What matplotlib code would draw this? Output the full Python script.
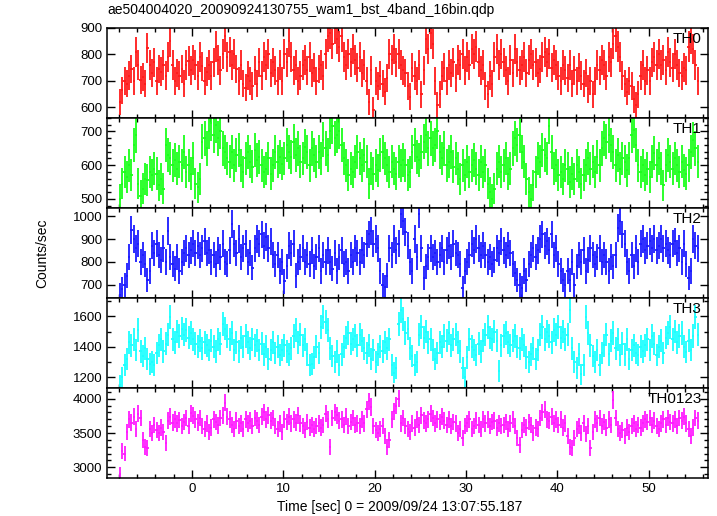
import matplotlib.pyplot as plt
import numpy as np
from matplotlib.ticker import MultipleLocator

plt.rcParams["font.family"] = ["Liberation Sans", "DejaVu Sans"]

# 0.25 s bins, first bin centre
t_start = -7.875
bin_width = 0.25

th0 = [620, 665, 700, 690, 720, 745, 700, 810, 760, 705, 715, 690, 825, 760, 730, 770,
       700, 745, 735, 760, 720, 790, 850, 760, 700, 730, 720, 745, 690, 760, 775, 740,
       780, 760, 720, 790, 755, 700, 735, 760, 720, 770, 830, 780, 740, 800, 870, 790,
       810, 760, 800, 745, 700, 760, 690, 675, 720, 700, 680, 740, 690, 770, 720, 790,
       760, 800, 730, 770, 740, 700, 760, 700, 800, 770, 850, 790, 740, 760, 700, 720,
       760, 780, 740, 790, 730, 750, 700, 745, 760, 720, 800, 870, 880, 840, 900, 860,
       830, 870, 790, 760, 800, 770, 820, 780, 750, 790, 730, 760, 700, 620, 740, 590,
       700, 680, 720, 690, 660, 710, 800, 780, 820, 770, 800, 760, 740, 730, 680, 640,
       750, 720, 700, 760, 650, 740, 860, 820, 880, 840, 700, 610, 650, 720, 750, 700,
       760, 730, 770, 710, 780, 760, 800, 740, 790, 760, 820, 800, 830, 770, 740, 760,
       680, 650, 720, 690, 790, 820, 760, 800, 770, 740, 700, 780, 730, 820, 770, 740,
       760, 790, 730, 780, 800, 760, 770, 730, 745, 790, 810, 770, 800, 750, 780, 760,
       720, 700, 760, 740, 710, 760, 690, 740, 700, 750, 720, 690, 730, 670, 700, 650,
       700, 760, 740, 780, 760, 720, 790, 770, 840, 870, 830, 790, 720, 690, 660, 700,
       680, 630, 610, 650, 720, 760, 700, 740, 700, 770, 790, 760, 800, 760, 780, 740,
       810, 770, 750, 800, 760, 730, 720, 750, 740, 830, 860, 820, 760, 700]

th1 = [500, 545, 580, 565, 600, 570, 660, 690, 545, 510, 530, 560, 555, 580, 570, 590,
       575, 540, 560, 530, 660, 630, 620, 600, 615, 590, 610, 600, 640, 580, 600, 575,
       620, 545, 535, 560, 670, 680, 650, 700, 725, 690, 720, 680, 700, 650, 640, 620,
       610, 640, 600, 630, 645, 600, 580, 620, 640, 610, 595, 645, 615, 625, 600, 580,
       590, 620, 575, 600, 640, 610, 625, 605, 620, 660, 640, 625, 670, 630, 650, 610,
       620, 655, 640, 600, 650, 630, 610, 640, 620, 675, 650, 630, 700, 715, 680, 690,
       700, 660, 620, 600, 570, 590, 580, 610, 640, 620, 600, 630, 610, 545, 590, 575,
       600, 585, 630, 640, 620, 600, 580, 610, 590, 575, 610, 600, 615, 600, 570, 580,
       640, 660, 625, 615, 640, 670, 690, 650, 680, 650, 660, 700, 640, 620, 650, 600,
       610, 640, 595, 620, 590, 560, 600, 570, 610, 580, 600, 615, 590, 570, 610, 580,
       600, 545, 520, 500, 530, 590, 610, 580, 600, 620, 575, 590, 650, 680, 660, 690,
       640, 610, 560, 520, 500, 540, 580, 620, 610, 645, 630, 620, 715, 640, 590, 600,
       570, 580, 560, 600, 590, 550, 575, 560, 600, 580, 545, 570, 600, 620, 590, 610,
       580, 625, 600, 650, 680, 670, 690, 660, 640, 600, 630, 590, 620, 610, 585, 620,
       690, 705, 660, 600, 580, 600, 570, 590, 565, 610, 635, 600, 620, 590, 540, 600,
       630, 610, 590, 620, 600, 580, 610, 585, 575, 600, 640, 675, 650, 610]

th2 = [655, 680, 700, 740, 820, 940, 900, 860, 880, 800, 830, 790, 720, 760, 870, 840,
       880, 830, 810, 860, 800, 935, 820, 790, 770, 820, 760, 800, 840, 860, 830, 850,
       880, 840, 870, 830, 860, 890, 840, 850, 800, 830, 790, 850, 820, 880, 800, 790,
       850, 965, 880, 840, 900, 820, 860, 880, 800, 840, 775, 860, 900, 880, 920, 870,
       910, 860, 890, 830, 790, 830, 760, 800, 715, 780, 870, 840, 880, 740, 800, 820,
       860, 800, 830, 790, 850, 780, 820, 860, 760, 830, 800, 850, 800, 770, 840, 760,
       820, 850, 790, 800, 760, 830, 800, 860, 840, 800, 850, 830, 880, 920, 935, 880,
       900, 860, 760, 700, 690, 740, 860, 830, 900, 850, 880, 1010, 980, 930, 870, 800,
       760, 900, 820, 1010, 860, 730, 780, 820, 860, 820, 840, 800, 830, 860, 800, 850,
       870, 820, 880, 840, 830, 790, 685, 760, 800, 830, 880, 850, 900, 860, 830, 870,
       830, 800, 820, 790, 810, 860, 840, 890, 850, 830, 870, 840, 790, 750, 720, 700,
       685, 760, 720, 790, 830, 860, 820, 850, 900, 920, 870, 890, 850, 920, 830, 860,
       790, 760, 720, 700, 760, 720, 800, 700, 780, 830, 800, 850, 760, 810, 860, 830,
       790, 820, 860, 800, 830, 800, 760, 820, 780, 830, 950, 980, 920, 880, 800, 760,
       830, 780, 860, 800, 880, 900, 850, 870, 890, 860, 900, 850, 870, 900, 860, 880,
       850, 830, 880, 890, 840, 860, 800, 880, 790, 730, 760, 900, 870, 860]

th3 = [1150, 1200, 1280, 1320, 1430, 1410, 1450, 1380, 1510, 1370, 1340, 1390, 1320, 1290, 1300, 1280,
       1360, 1410, 1450, 1370, 1420, 1480, 1595, 1450, 1430, 1500, 1470, 1520, 1480, 1510, 1460, 1490,
       1450, 1420, 1400, 1440, 1390, 1430, 1410, 1380, 1440, 1400, 1370, 1450, 1420, 1550, 1520, 1470,
       1450, 1490, 1380, 1430, 1370, 1460, 1400, 1470, 1430, 1390, 1450, 1410, 1440, 1380, 1420, 1350,
       1400, 1320, 1380, 1430, 1360, 1400, 1345, 1380, 1410, 1370, 1350, 1390, 1470, 1510, 1430, 1480,
       1410, 1450, 1350, 1280, 1290, 1330, 1400, 1360, 1530, 1595, 1560, 1510, 1390, 1340, 1300, 1370,
       1280, 1350, 1400, 1460, 1490, 1420, 1450, 1470, 1410, 1480, 1440, 1390, 1360, 1410, 1320, 1380,
       1300, 1350, 1400, 1370, 1430, 1390, 1450, 1280, 1230, 1260, 1550, 1640, 1580, 1490, 1520, 1390,
       1340, 1280, 1300, 1480, 1530, 1460, 1500, 1430, 1450, 1380, 1320, 1360, 1430, 1400, 1470, 1440,
       1490, 1410, 1450, 1480, 1430, 1370, 1260, 1200, 1330, 1450, 1400, 1380, 1345, 1420, 1370, 1440,
       1480, 1530, 1460, 1450, 1500, 1440, 1240, 1410, 1470, 1490, 1430, 1410, 1440, 1470, 1400, 1390,
       1450, 1410, 1330, 1300, 1350, 1390, 1320, 1380, 1480, 1530, 1450, 1500, 1470, 1430, 1510, 1480,
       1530, 1460, 1500, 1450, 1480, 1640, 1390, 1300, 1260, 1350, 1220, 1280, 1595, 1490, 1410, 1340,
       1300, 1380, 1280, 1360, 1410, 1480, 1350, 1440, 1490, 1390, 1450, 1345, 1420, 1350, 1450, 1320,
       1380, 1410, 1360, 1345, 1400, 1370, 1410, 1450, 1380, 1470, 1420, 1345, 1400, 1440, 1360, 1460,
       1490, 1530, 1450, 1500, 1430, 1470, 1490, 1400, 1365, 1440, 1380, 1470, 1595, 1480]

th0123 = [2900, 3240, 3200, 3510, 3700, 3650, 3740, 3560, 3780, 3720, 3400, 3300, 3280, 3560, 3500, 3620,
          3540, 3500, 3580, 3510, 3360, 3680, 3740, 3650, 3700, 3640, 3690, 3600, 3660, 3720, 3600, 3790,
          3750, 3700, 3650, 3720, 3600, 3560, 3640, 3520, 3580, 3700, 3660, 3610, 3720, 3760, 3940, 3740,
          3700, 3620, 3560, 3680, 3600, 3640, 3560, 3700, 3640, 3680, 3600, 3720, 3680, 3620, 3740, 3800,
          3700, 3760, 3680, 3720, 3600, 3560, 3640, 3520, 3700, 3660, 3740, 3640, 3700, 3650, 3760, 3640,
          3600, 3540, 3660, 3580, 3620, 3560, 3600, 3640, 3580, 3620, 3780, 3700, 3300, 3720, 3800, 3760,
          3680, 3700, 3620, 3740, 3600, 3660, 3720, 3620, 3640, 3600, 3700, 3640, 3850, 3960, 3880, 3600,
          3540, 3500, 3560, 3600, 3460, 3300, 3400, 3700, 3820, 3900, 4000, 3640, 3720, 3600, 3560, 3520,
          3640, 3580, 3700, 3620, 3760, 3680, 3640, 3700, 3780, 3720, 3640, 3700, 3660, 3740, 3680, 3620,
          3700, 3600, 3660, 3640, 3500, 3560, 3420, 3600, 3640, 3700, 3560, 3600, 3680, 3620, 3560, 3700,
          3640, 3700, 3600, 3660, 3680, 3580, 3640, 3600, 3620, 3660, 3560, 3640, 3700, 3600, 3420, 3320,
          3540, 3620, 3580, 3660, 3620, 3500, 3580, 3560, 3720, 3800, 3840, 3700, 3680, 3740, 3640, 3700,
          3620, 3700, 3580, 3640, 3450, 3300, 3280, 3420, 3560, 3600, 3500, 3640, 3480, 3600, 3280, 3520,
          3700, 3640, 3720, 3600, 3660, 3580, 3700, 3620, 3980, 3720, 3560, 3500, 3540, 3460, 3580, 3520,
          3600, 3640, 3560, 3620, 3580, 3640, 3700, 3660, 3720, 3620, 3680, 3600, 3560, 3640, 3700, 3620,
          3720, 3660, 3640, 3700, 3600, 3720, 3680, 3740, 3640, 3560, 3460, 3580, 3720, 3680]

names = ["TH0", "TH1", "TH2", "TH3", "TH0123"]
series = [th0, th1, th2, th3, th0123]
colors = ["#ff1a1a", "#1aff1a", "#1a1aff", "#1affff", "#ff1aff"]
ylims = [(560, 900), (473, 740), (642, 1036), (1130, 1720), (2843, 4157)]
major = [100, 100, 100, 200, 500]
minor = [None, 20, None, 100, 100]

W, H = 717, 516
fig = plt.figure(figsize=(W / 100, H / 100), dpi=100)

left, right = 107, 708
top, bottom = 28, 478
ph = (bottom - top) / 5

for i in range(5):
    y_top = top + i * ph
    ax = fig.add_axes([left / W, 1 - (y_top + ph) / H, (right - left) / W, ph / H])
    y = np.array(series[i], dtype=float)
    t = t_start + bin_width * np.arange(len(y))
    # poisson error on the binned rate
    err = np.sqrt(y * bin_width) / bin_width
    ax.errorbar(t, y, xerr=bin_width / 2, yerr=err, fmt='none',
                ecolor=colors[i], elinewidth=1.3, capsize=0)
    ax.set_xlim(-9.3, 56.5)
    ax.set_ylim(*ylims[i])
    ax.yaxis.set_major_locator(MultipleLocator(major[i]))
    if minor[i]:
        ax.yaxis.set_minor_locator(MultipleLocator(minor[i]))
    else:
        ax.yaxis.set_minor_locator(plt.NullLocator())
    ax.xaxis.set_major_locator(MultipleLocator(10))
    ax.xaxis.set_minor_locator(MultipleLocator(2))
    ax.tick_params(which='both', direction='in', top=True, right=True,
                   labelsize=9.5, width=1)
    ax.tick_params(which='major', length=6)
    ax.tick_params(which='minor', length=3)
    for s in ax.spines.values():
        s.set_linewidth(1.1)
    if i < 4:
        ax.tick_params(labelbottom=False)
    ax.text(0.99, 0.88, names[i], transform=ax.transAxes, ha='right', va='center',
            fontsize=11)

fig.text(left / W, 1 - 10 / H, "ae504004020_20090924130755_wam1_bst_4band_16bin.qdp",
         ha='left', va='center', fontsize=10)
fig.text(42 / W, 1 - 253 / H, "Counts/sec", rotation=90, ha='center', va='center',
         fontsize=10)
fig.text(400 / W, 1 - 507 / H, "Time [sec] 0 = 2009/09/24 13:07:55.187",
         ha='center', va='center', fontsize=10)

fig.savefig("out.png", dpi=100)
